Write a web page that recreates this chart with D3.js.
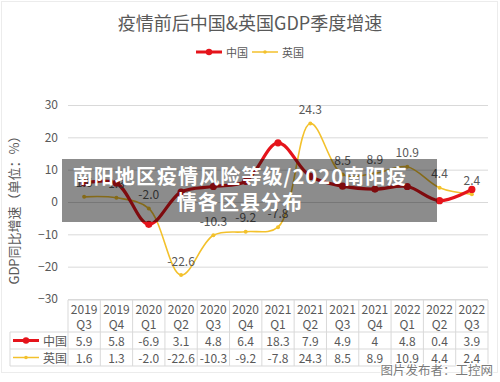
<!DOCTYPE html>
<html><head><meta charset="utf-8">
<script src="https://cdn.jsdelivr.net/npm/d3@7"></script>
<style>
html,body{margin:0;padding:0;background:#fff;}
svg{display:block;font-family:"Noto Sans CJK SC","Noto Sans",sans-serif;}
</style></head>
<body><svg id="c" width="500" height="382"></svg>
<script>
const years = ["2019","2019","2020","2020","2020","2020","2021","2021","2021","2021","2022","2022","2022"];
const quarters = ["Q3","Q4","Q1","Q2","Q3","Q4","Q1","Q2","Q3","Q4","Q1","Q2","Q3"];
const chinaValues = [5.9, 5.8, -6.9, 3.1, 4.8, 6.4, 18.3, 7.9, 4.9, 4, 4.8, 0.4, 3.9];
const ukValues = [1.6, 1.3, -2.0, -22.6, -10.3, -9.2, -7.8, 24.3, 8.5, 8.9, 10.9, 4.4, 2.4];
const chinaText = ["5.9","5.8","-6.9","3.1","4.8","6.4","18.3","7.9","4.9","4","4.8","0.4","3.9"];
const ukText = ["1.6","1.3","-2.0","-22.6","-10.3","-9.2","-7.8","24.3","8.5","8.9","10.9","4.4","2.4"];
const yTicks = [-30, -20, -10, 0, 10, 20, 30];
const seriesNames = ["中国", "英国"];
const title = "疫情前后中国&英国GDP季度增速";
const yTitle = "GDP同比增速（单位：%）";
const overlayLines = ["南阳地区疫情风险等级/2020南阳疫", "情各区县分布"];
const watermark = "图片发布者：工控网";

const cats = years.map((y,i)=>y+" "+quarters[i]);
const RED = "#e5141b", GOLD = "#f3c12c", TXT = "#595959", GRID = "#d9d9d9";
const svg = d3.select("#c");

// frame
svg.append("rect").attr("x",1.5).attr("y",1.5).attr("width",496).attr("height",371)
  .attr("fill","#fff").attr("stroke","#ececec");

const x = d3.scaleBand().domain(cats).range([68, 488]);
const y = d3.scaleLinear().domain([-30, 30]).range([299, 105]);
const cx = c => x(c) + x.bandwidth()/2;

// title
svg.append("text").attr("x",250).attr("y",22).attr("text-anchor","middle")
  .attr("dominant-baseline","central").attr("font-size",18).attr("fill",TXT).text(title);

// legend
const leg = [{n:seriesNames[0],c:RED,w:3,r:3.2,x0:196},{n:seriesNames[1],c:GOLD,w:1.5,r:1.8,x0:252}];
leg.forEach(l=>{
  svg.append("line").attr("x1",l.x0).attr("x2",l.x0+26).attr("y1",52).attr("y2",52)
    .attr("stroke",l.c).attr("stroke-width",l.w);
  svg.append("circle").attr("cx",l.x0+13).attr("cy",52).attr("r",l.r).attr("fill",l.c);
  svg.append("text").attr("x",l.x0+30).attr("y",52).attr("dominant-baseline","central")
    .attr("font-size",11).attr("fill",TXT).text(l.n);
});

// gridlines + y axis
const yAxis = d3.axisLeft(y).tickValues(yTicks).tickSize(-(488-68)).tickPadding(10);
const gy = svg.append("g").attr("transform","translate(68,0)").call(yAxis);
gy.select(".domain").remove();
gy.selectAll(".tick line").attr("stroke",GRID);
gy.selectAll(".tick text").attr("font-size",12).attr("fill",TXT).attr("font-family","Noto Sans CJK SC");

// y title
svg.append("text").attr("transform","translate(13,207) rotate(-90)").attr("text-anchor","middle")
  .attr("dominant-baseline","central").attr("font-size",13).attr("fill",TXT).text(yTitle);

// lines
const line = d3.line().x((d,i)=>cx(cats[i])).y(d=>y(d)).curve(d3.curveCatmullRom.alpha(0.5));
svg.append("path").datum(ukValues).attr("d",line).attr("fill","none").attr("stroke",GOLD).attr("stroke-width",1.6);
svg.selectAll(".uk").data(ukValues).enter().append("circle")
  .attr("cx",(d,i)=>cx(cats[i])).attr("cy",d=>y(d)).attr("r",2).attr("fill",GOLD);
svg.append("path").datum(chinaValues).attr("d",line).attr("fill","none").attr("stroke",RED).attr("stroke-width",3.2);
svg.selectAll(".cn").data(chinaValues).enter().append("circle")
  .attr("cx",(d,i)=>cx(cats[i])).attr("cy",d=>y(d)).attr("r",3.6).attr("fill",RED);

// UK data labels
svg.selectAll(".lbl").data(ukValues).enter().append("text")
  .attr("x",(d,i)=>cx(cats[i])).attr("y",d=>y(d)-15)
  .attr("text-anchor","middle").attr("dominant-baseline","central")
  .attr("font-size",12).attr("fill",TXT).text((d,i)=>ukText[i]);

// data table
const tg = svg.append("g").attr("stroke",GRID).attr("stroke-width",1);
const cols = [68, ...cats.map(c=>x(c)+x.bandwidth())];
cols.forEach(v=>tg.append("line").attr("x1",v).attr("x2",v).attr("y1",300).attr("y2",366));
tg.append("line").attr("x1",10).attr("x2",10).attr("y1",332).attr("y2",366);
tg.append("line").attr("x1",68).attr("x2",488).attr("y1",300).attr("y2",300);
[332,349,366].forEach(v=>tg.append("line").attr("x1",10).attr("x2",488).attr("y1",v).attr("y2",v));

cats.forEach((c,i)=>{
  svg.append("text").attr("x",cx(c)).attr("y",308).attr("text-anchor","middle").attr("dominant-baseline","central")
    .attr("font-size",12).attr("fill",TXT).text(years[i]);
  svg.append("text").attr("x",cx(c)).attr("y",323).attr("text-anchor","middle").attr("dominant-baseline","central")
    .attr("font-size",12).attr("fill",TXT).text(quarters[i]);
  svg.append("text").attr("x",cx(c)).attr("y",340.5).attr("text-anchor","middle").attr("dominant-baseline","central")
    .attr("font-size",12).attr("fill",TXT).text(chinaText[i]);
  svg.append("text").attr("x",cx(c)).attr("y",357.5).attr("text-anchor","middle").attr("dominant-baseline","central")
    .attr("font-size",12).attr("fill",TXT).text(ukText[i]);
});
[{n:seriesNames[0],c:RED,w:3,r:3.2,yy:340.5},{n:seriesNames[1],c:GOLD,w:1.5,r:1.8,yy:357.5}].forEach(l=>{
  svg.append("line").attr("x1",13).attr("x2",39).attr("y1",l.yy).attr("y2",l.yy).attr("stroke",l.c).attr("stroke-width",l.w);
  svg.append("circle").attr("cx",26).attr("cy",l.yy).attr("r",l.r).attr("fill",l.c);
  svg.append("text").attr("x",43).attr("y",l.yy).attr("dominant-baseline","central")
    .attr("font-size",12).attr("fill",TXT).text(l.n);
});

// overlay banner
svg.append("rect").attr("x",62).attr("y",159).attr("width",375).attr("height",63)
  .attr("fill","#000").attr("fill-opacity",0.45);
overlayLines.forEach((t,i)=>{
  svg.append("text").attr("x",240).attr("y",175+i*26).attr("text-anchor","middle")
    .attr("dominant-baseline","central").attr("font-size",20).attr("font-weight",700)
    .attr("letter-spacing",1.1).attr("fill","#fff").text(t);
});

// watermark
svg.append("text").attr("x",493).attr("y",369).attr("text-anchor","end").attr("dominant-baseline","central")
  .attr("font-size",12.5).attr("fill","#7a7a7a").attr("stroke","#fff").attr("stroke-width",2)
  .attr("paint-order","stroke").text(watermark);
</script></body></html>
